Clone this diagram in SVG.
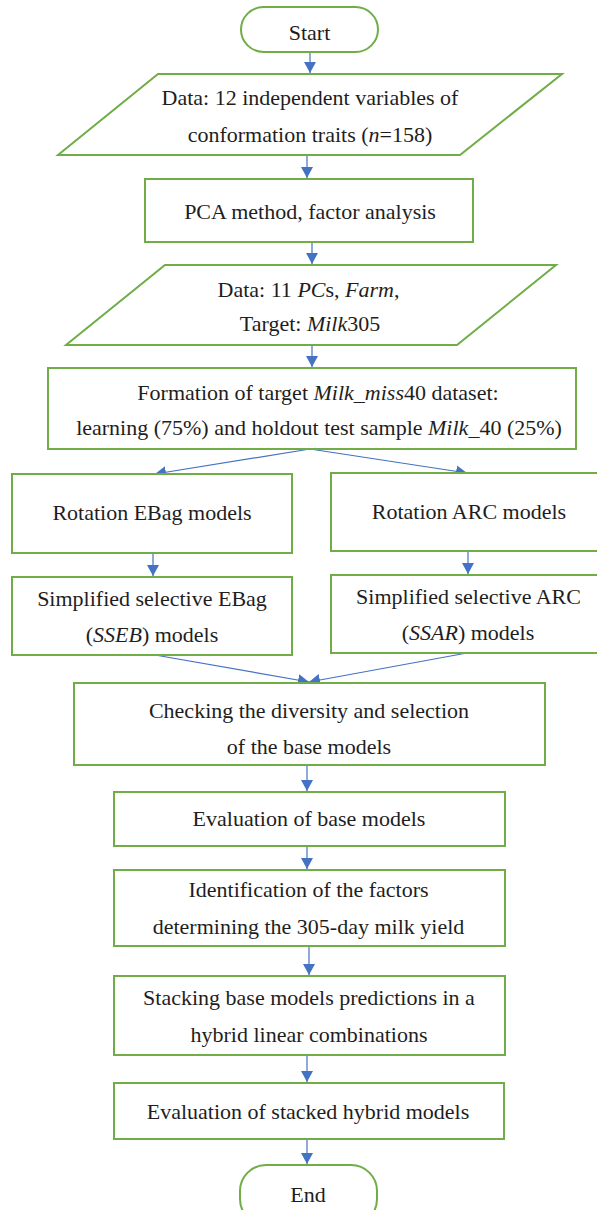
<svg xmlns="http://www.w3.org/2000/svg" width="597" height="1210" viewBox="0 0 597 1210">
  <style>
    .box { fill: #ffffff; stroke: #70ad47; stroke-width: 2; }
    .lbl { font-size: 22px; fill: #1e1e1e; text-anchor: middle; }
    .flow { stroke: #4472c4; stroke-width: 1.2; fill: none; marker-end: url(#head); }
  </style>
  <defs>
    <marker id="head" markerUnits="userSpaceOnUse" markerWidth="11" markerHeight="12" refX="11" refY="6" orient="auto">
      <path d="M0,0 L11,6 L0,12 z" fill="#4472c4"/>
    </marker>
  </defs>
  <rect width="597" height="1210" fill="#ffffff"/>

  <!-- connectors -->
  <g id="connectors">
    <line class="flow" x1="310" y1="52" x2="310" y2="73"/>
    <line class="flow" x1="307" y1="155" x2="307" y2="178"/>
    <line class="flow" x1="312" y1="242" x2="312" y2="264"/>
    <line class="flow" x1="312" y1="345" x2="312" y2="367"/>
    <line class="flow" x1="310" y1="449" x2="155" y2="474"/>
    <line class="flow" x1="310" y1="449" x2="467" y2="473"/>
    <line class="flow" x1="153" y1="553" x2="153" y2="576"/>
    <line class="flow" x1="468" y1="551" x2="468" y2="574"/>
    <line class="flow" x1="155" y1="655" x2="309" y2="682"/>
    <line class="flow" x1="467" y1="653" x2="309" y2="682"/>
    <line class="flow" x1="307" y1="765" x2="307" y2="791"/>
    <line class="flow" x1="307" y1="846" x2="307" y2="869"/>
    <line class="flow" x1="309" y1="946" x2="309" y2="975"/>
    <line class="flow" x1="307" y1="1055" x2="307" y2="1082"/>
    <line class="flow" x1="307" y1="1139" x2="307" y2="1164"/>
  </g>

  <g font-family="Liberation Serif, Tinos, Times New Roman, DejaVu Serif, serif">
  <g id="start">
    <rect class="box" x="241" y="7" width="137" height="45" rx="22.5"/>
    <text class="lbl" x="309.5" y="39.5">Start</text>
  </g>

  <g id="data-input">
    <polygon class="box" points="158,74 562,74 460,155 58,155"/>
    <text class="lbl" x="310" y="104.5">Data: 12 independent variables of</text>
    <text class="lbl" x="310" y="141.5">conformation traits (<tspan font-style="italic">n</tspan>=158)</text>
  </g>

  <g id="pca">
    <rect class="box" x="145" y="179" width="328" height="63"/>
    <text class="lbl" x="310" y="218.5">PCA method, factor analysis</text>
  </g>

  <g id="data-pcs">
    <polygon class="box" points="165,265 556,265 457,345 66,345"/>
    <text class="lbl" x="308.5" y="296.5">Data: 11 <tspan font-style="italic">PC</tspan>s, <tspan font-style="italic">Farm</tspan>,</text>
    <text class="lbl" x="310" y="330.5">Target: <tspan font-style="italic">Milk</tspan>305</text>
  </g>

  <g id="formation">
    <rect class="box" x="48" y="368" width="528" height="81"/>
    <text class="lbl" x="318" y="399.5">Formation of target <tspan font-style="italic">Milk_miss</tspan>40 dataset:</text>
    <text class="lbl" x="319" y="434.5">learning (75%) and holdout test sample <tspan font-style="italic">Milk</tspan>_40 (25%)</text>
  </g>

  <g id="rotation-ebag">
    <rect class="box" x="12" y="474" width="280" height="79"/>
    <text class="lbl" x="152" y="519.5">Rotation EBag models</text>
  </g>

  <g id="rotation-arc">
    <rect class="box" x="331" y="473" width="270" height="78"/>
    <text class="lbl" x="469" y="519">Rotation ARC models</text>
  </g>

  <g id="sseb">
    <rect class="box" x="12" y="577" width="280" height="78"/>
    <text class="lbl" x="152" y="605.5">Simplified selective EBag</text>
    <text class="lbl" x="152" y="641.5">(<tspan font-style="italic">SSEB</tspan>) models</text>
  </g>

  <g id="ssar">
    <rect class="box" x="331" y="575" width="270" height="78"/>
    <text class="lbl" x="468.5" y="603.5">Simplified selective ARC</text>
    <text class="lbl" x="468" y="639.5">(<tspan font-style="italic">SSAR</tspan>) models</text>
  </g>

  <g id="diversity">
    <rect class="box" x="74" y="683" width="471" height="82"/>
    <text class="lbl" x="309" y="717.5">Checking the diversity and selection</text>
    <text class="lbl" x="309" y="753.5">of the base models</text>
  </g>

  <g id="eval-base">
    <rect class="box" x="114" y="792" width="391" height="54"/>
    <text class="lbl" x="309" y="825.5">Evaluation of base models</text>
  </g>

  <g id="factors">
    <rect class="box" x="114" y="870" width="391" height="76"/>
    <text class="lbl" x="308.5" y="896.5">Identification of the factors</text>
    <text class="lbl" x="308.5" y="933.5">determining the 305-day milk yield</text>
  </g>

  <g id="stacking">
    <rect class="box" x="114" y="976" width="391" height="79"/>
    <text class="lbl" x="309" y="1004.5">Stacking base models predictions in a</text>
    <text class="lbl" x="309" y="1041.5">hybrid linear combinations</text>
  </g>

  <g id="eval-stacked">
    <rect class="box" x="114" y="1083" width="390" height="56"/>
    <text class="lbl" x="308" y="1118.5">Evaluation of stacked hybrid models</text>
  </g>

  <g id="end">
    <rect class="box" x="240" y="1165" width="137" height="60" rx="26"/>
    <text class="lbl" x="308" y="1201.5">End</text>
  </g>
  </g>
</svg>
